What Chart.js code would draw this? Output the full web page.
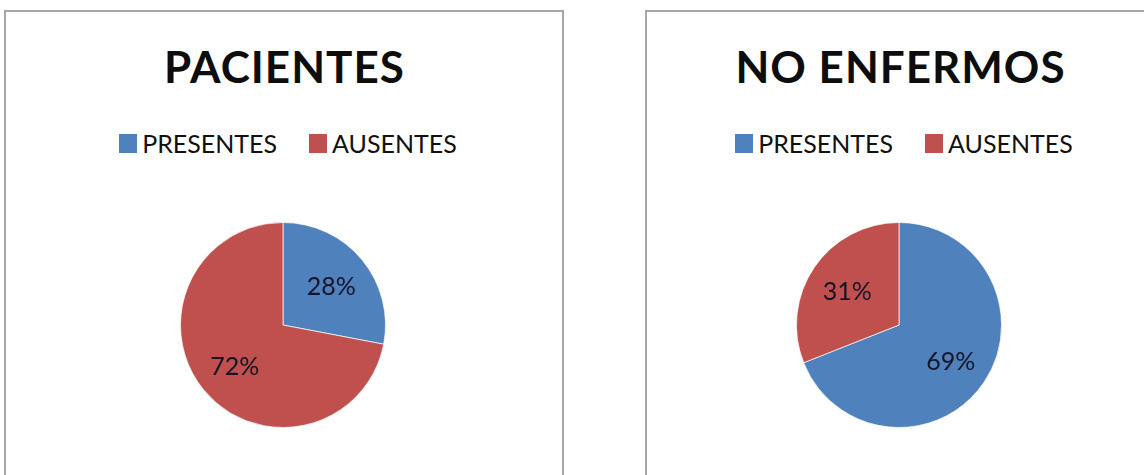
<!DOCTYPE html>
<html>
<head>
<meta charset="utf-8">
<script src="https://cdn.jsdelivr.net/npm/chart.js@4.4.1/dist/chart.umd.min.js"></script>
<style>
  html, body { margin: 0; padding: 0; background: #ffffff; }
  body { width: 1144px; height: 475px; position: relative; overflow: hidden; font-family: Lato, "Open Sans", sans-serif; }
  .panel { position: absolute; top: 10px; height: 480px; border: 2px solid #a6a6a6; box-sizing: border-box; background: #fff; }
  .title { position: absolute; left: 0; right: 0; text-align: center; font-weight: 700; color: #0d0d0d; line-height: 1; white-space: nowrap; letter-spacing: 1px; }
  .legend { position: absolute; left: 0; right: 0; display: flex; justify-content: center; align-items: center; line-height: 1; white-space: nowrap; color: #111; }
  .legend .item { display: flex; align-items: center; }
  .legend .sw { display: inline-block; width: 18px; height: 19px; margin-right: 5px; }
  canvas { position: absolute; }
</style>
</head>
<body>
<div class="panel" id="p0" style="left:4px; width:560px;"></div>
<div class="panel" id="p1" style="left:645px; width:510px;"></div>
<canvas id="c0" width="206" height="206" style="left:180px; top:222px;"></canvas>
<canvas id="c1" width="206" height="206" style="left:796px; top:222px;"></canvas>
<script>
// Categories and values for each pie
const categories = ['PRESENTES', 'AUSENTES'];
const pacientes = [28, 72];
const noEnfermos = [69, 31];
const chartTitles = ['PACIENTES', 'NO ENFERMOS'];
const sliceColors = ['#4F81BD', '#C0504D'];

const seriesList = [pacientes, noEnfermos];

// Title and legend for each panel
function buildHeader(panelId, title) {
  const panel = document.getElementById(panelId);
  const t = document.createElement('div');
  t.className = 'title';
  t.style.fontSize = '44px';
  t.style.top = '32px';
  t.style.paddingLeft = '1px';
  t.textContent = title;
  panel.appendChild(t);

  const lg = document.createElement('div');
  lg.className = 'legend';
  lg.style.fontSize = '25px';
  lg.style.top = '119px';
  lg.style.paddingLeft = '8px';
  categories.forEach((name, i) => {
    const item = document.createElement('div');
    item.className = 'item';
    if (i > 0) item.style.marginLeft = '32px';
    const sw = document.createElement('span');
    sw.className = 'sw';
    sw.style.background = sliceColors[i];
    const tx = document.createElement('span');
    tx.textContent = name;
    item.appendChild(sw);
    item.appendChild(tx);
    lg.appendChild(item);
  });
  panel.appendChild(lg);
}

// Percentage labels placed inside each slice
const percentLabels = {
  id: 'percentLabels',
  afterDatasetsDraw(chart) {
    const ctx = chart.ctx;
    const meta = chart.getDatasetMeta(0);
    const values = chart.data.datasets[0].data;
    ctx.save();
    ctx.font = '25px Lato, "Open Sans", sans-serif';
    ctx.fillStyle = '#141428';
    ctx.textAlign = 'center';
    ctx.textBaseline = 'middle';
    meta.data.forEach((arc, i) => {
      const p = arc.getProps(['x', 'y', 'startAngle', 'endAngle', 'outerRadius']);
      const mid = (p.startAngle + p.endAngle) / 2;
      const r = p.outerRadius * 0.61;
      ctx.fillText(values[i] + '%', p.x + Math.cos(mid) * r, p.y + Math.sin(mid) * r + 2);
    });
    ctx.restore();
  }
};

['p0', 'p1'].forEach((id, k) => buildHeader(id, chartTitles[k]));

['c0', 'c1'].forEach((id, k) => {
  new Chart(document.getElementById(id), {
    type: 'pie',
    data: {
      labels: categories,
      datasets: [{
        data: seriesList[k],
        backgroundColor: sliceColors,
        borderColor: 'rgba(255,255,255,0.7)',
        borderWidth: 1
      }]
    },
    options: {
      responsive: false,
      animation: false,
      devicePixelRatio: 1,
      layout: { padding: 0 },
      plugins: {
        legend: { display: false },
        title: { display: false },
        tooltip: { enabled: false }
      }
    },
    plugins: [percentLabels]
  });
});
</script>
</body>
</html>
